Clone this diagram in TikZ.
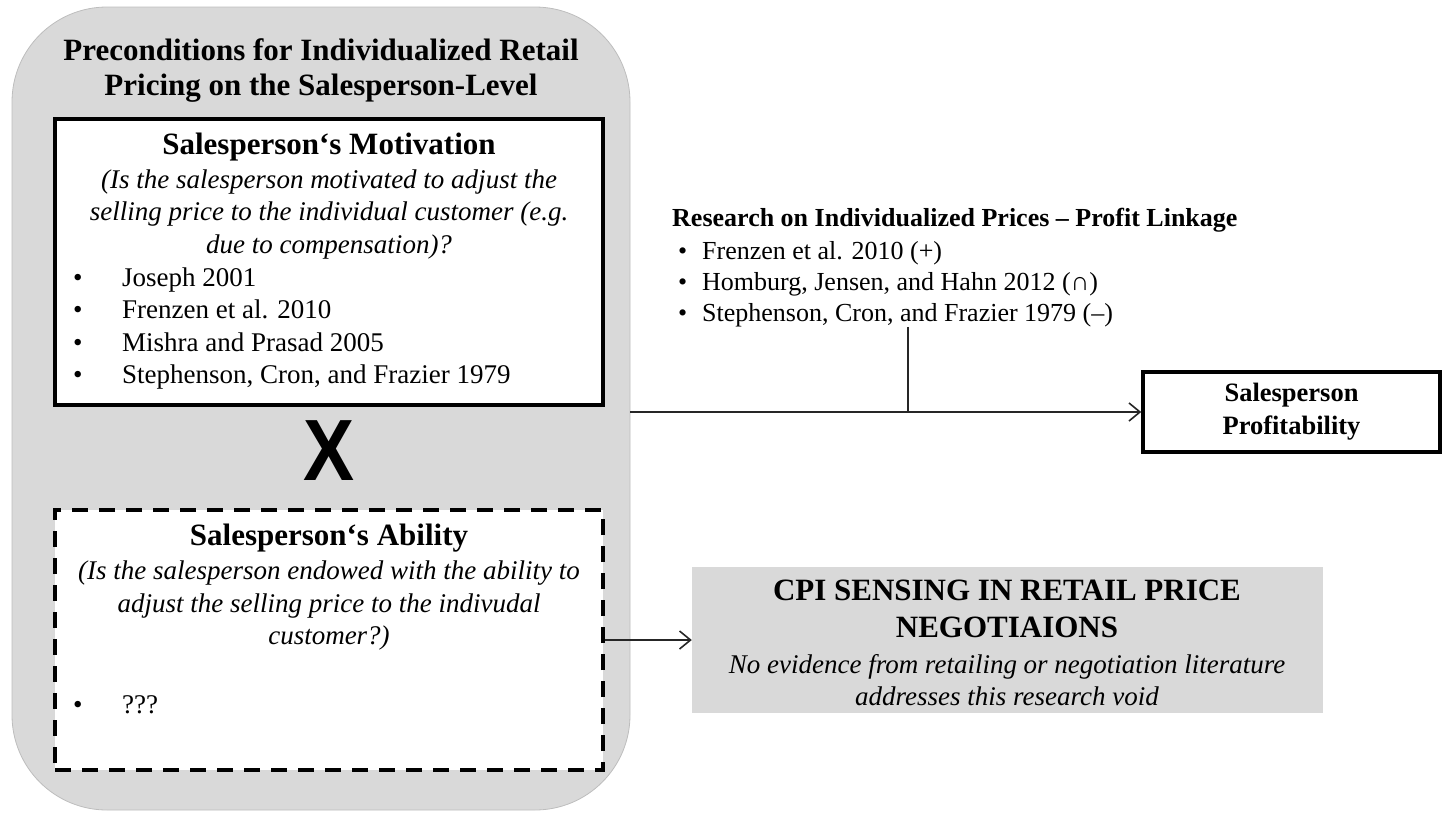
\documentclass[tikz,border=0pt]{standalone}
\usepackage{fontspec}
\setmainfont{Liberation Serif}
\newfontfamily\crossfont{Liberation Sans}
\usetikzlibrary{arrows.meta}

\definecolor{panelgray}{HTML}{D9D9D9}
\definecolor{edgegray}{HTML}{BDBDBD}

% text styles
\newcommand\ttlfont{\fontsize{31}{35}\selectfont\bfseries}
\newcommand\hdfont{\fontsize{31}{34}\selectfont\bfseries}
\newcommand\itbody{\fontsize{27}{32.5}\selectfont\itshape}
\newcommand\rgbody{\fontsize{27}{32.5}\selectfont}
\newcommand\rsecfont{\fontsize{26}{31}\selectfont\bfseries}
\newcommand\rbody{\fontsize{26}{31}\selectfont}
\newcommand\cpihd{\fontsize{31}{37}\selectfont\bfseries}
\newcommand\lblt{\makebox[49pt][l]{•}}
\newcommand\rblt{\makebox[24pt][l]{•}}

\begin{document}
\begin{tikzpicture}[x=1pt,y=-1pt,
  txt/.style={inner sep=0pt, align=center},
  listtxt/.style={inner sep=0pt, align=left, anchor=west},
  solidbox/.style={draw=black, line width=3.5pt, fill=white, inner sep=0pt},
  dashbox/.style={draw=black, line width=3.5pt, fill=white, inner sep=0pt,
    dash pattern=on 16pt off 11pt},
  graybox/.style={fill=panelgray, inner sep=0pt},
  link/.style={draw=black!85, line width=1.6pt},
  arr/.style={link, -{Straight Barb[length=11pt,width=18pt,line width=1.6pt]}}]

\useasboundingbox (0,0) rectangle (1444,812);

% grey panel holding the two preconditions
\node[fill=panelgray, draw=edgegray, line width=0.8pt, rounded corners=95pt,
  minimum width=618pt, minimum height=803pt, inner sep=0pt] (panel) at (321,408.5) {};

\node[txt, font=\ttlfont] (title) at (321,70.5)
  {Preconditions for Individualized Retail\\Pricing on the Salesperson-Level};

% motivation box
\node[solidbox, minimum width=548pt, minimum height=286pt] (motiv) at (329,262) {};
\node[txt, font=\hdfont] (motivhead) at (329,147) {Salesperson‘s Motivation};
\node[txt, font=\itbody] (motivq) at (329,214.5)
  {(Is the salesperson motivated to adjust the\\
   selling price to the individual customer (e.g.\\
   due to compensation)?};
\node[listtxt, font=\rgbody] (motivlist) at (73,328.5)
  {\lblt Joseph 2001\\
   \lblt Frenzen et al. 2010\\
   \lblt Mishra and Prasad 2005\\
   \lblt Stephenson, Cron, and Frazier 1979};

% interaction sign
\node[inner sep=0pt, font=\crossfont\bfseries\fontsize{87}{87}\selectfont] (cross) at (329,451)
  {\scalebox{0.88}[1]{X}};

% ability box
\node[dashbox, minimum width=548pt, minimum height=260pt] (abil) at (329,640) {};
\node[txt, font=\hdfont] (abilhead) at (329,538) {Salesperson‘s Ability};
\node[txt, font=\itbody] (abilq) at (329,605.5)
  {(Is the salesperson endowed with the ability to\\
   adjust the selling price to the indivudal\\
   customer?)};
\node[listtxt, font=\rgbody] (abillist) at (73,705) {\lblt ???};

% research on the price-profit link
\node[txt, anchor=west, font=\rsecfont] (rtitle) at (672,220)
  {Research on Individualized Prices – Profit Linkage};
\node[listtxt, font=\rbody] (research) at (678,284)
  {\rblt Frenzen et al. 2010 (+)\\
   \rblt Homburg, Jensen, and Hahn 2012 (∩)\\
   \rblt Stephenson, Cron, and Frazier 1979 (–)};

% outcome
\node[solidbox, minimum width=297pt, minimum height=80pt, align=center,
  font=\fontsize{26.5}{33}\selectfont\bfseries] (profit) at (1291.5,412)
  {Salesperson\\Profitability};

% research gap
\node[graybox, minimum width=631pt, minimum height=146pt] (cpi) at (1007.5,640) {};
\node[txt, font=\cpihd] (cpihead) at (1007,609)
  {CPI SENSING IN RETAIL PRICE\\NEGOTIAIONS};
\node[txt, font=\itbody] (cpitext) at (1007,680)
  {No evidence from retailing or negotiation literature\\
   addresses this research void};

% connectors
\coordinate (join) at (908,412);
\draw[arr] (panel.east |- profit.west) -- (profit.west);
\draw[link] (research.south -| join) -- (join);
\draw[arr] (abil.east) -- (cpi.west);
\end{tikzpicture}
\end{document}
